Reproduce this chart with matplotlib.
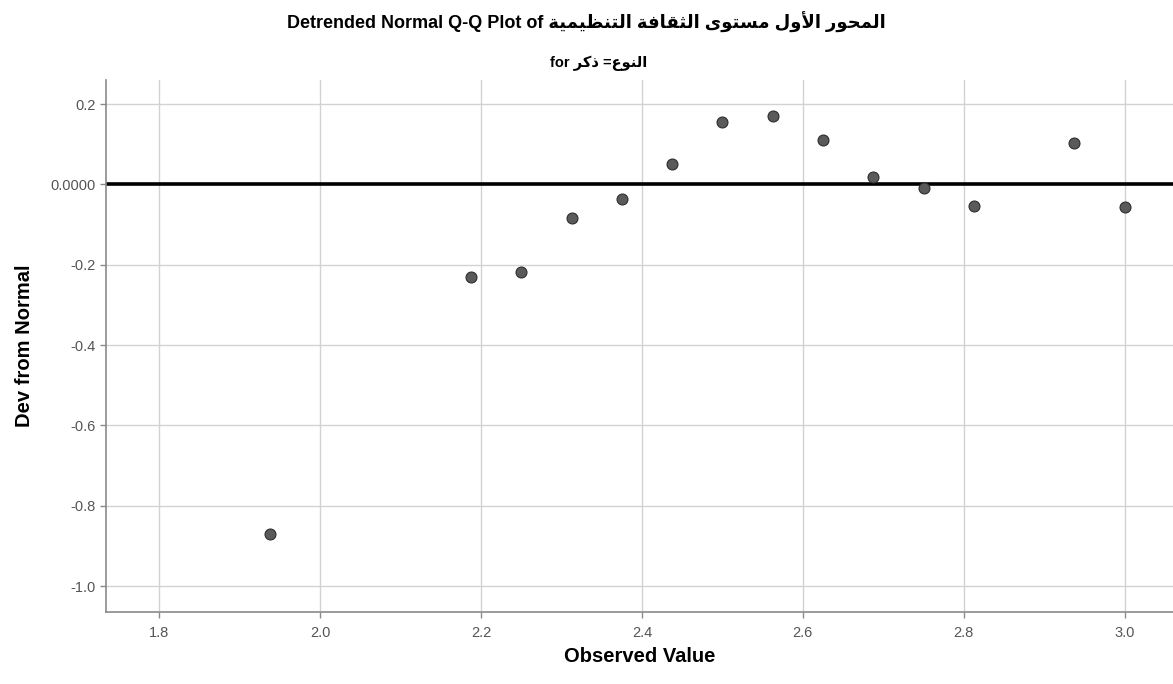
import matplotlib
matplotlib.use("Agg")
import matplotlib.pyplot as plt

observed = [1.9375, 2.1875, 2.25, 2.3125, 2.375, 2.4375, 2.5, 2.5625,
            2.625, 2.6875, 2.75, 2.8125, 2.9375, 3.0]
dev_from_normal = [-0.870, -0.230, -0.218, -0.083, -0.035, 0.050, 0.155, 0.171,
                   0.111, 0.018, -0.008, -0.054, 0.102, -0.056]

x_ticks = [1.8, 2.0, 2.2, 2.4, 2.6, 2.8, 3.0]
x_tick_labels = ["1.8", "2.0", "2.2", "2.4", "2.6", "2.8", "3.0"]
y_ticks = [0.2, 0.0, -0.2, -0.4, -0.6, -0.8, -1.0]
y_tick_labels = ["0.2", "0.0000", "-0.2", "-0.4", "-0.6", "-0.8", "-1.0"]

title_ar = "المحور الأول مستوى الثقافة التنظيمية"
subtitle_ar = "النوع= ذكر"

# presentation forms: isolated, final, initial, medial
FORMS = {
    "ا": (0xFE8D, 0xFE8E, None, None),
    "أ": (0xFE83, 0xFE84, None, None),
    "ة": (0xFE93, 0xFE94, None, None),
    "ت": (0xFE95, 0xFE96, 0xFE97, 0xFE98),
    "ث": (0xFE99, 0xFE9A, 0xFE9B, 0xFE9C),
    "ح": (0xFEA1, 0xFEA2, 0xFEA3, 0xFEA4),
    "ذ": (0xFEAB, 0xFEAC, None, None),
    "ر": (0xFEAD, 0xFEAE, None, None),
    "س": (0xFEB1, 0xFEB2, 0xFEB3, 0xFEB4),
    "ظ": (0xFEC5, 0xFEC6, 0xFEC7, 0xFEC8),
    "ع": (0xFEC9, 0xFECA, 0xFECB, 0xFECC),
    "ف": (0xFED1, 0xFED2, 0xFED3, 0xFED4),
    "ق": (0xFED5, 0xFED6, 0xFED7, 0xFED8),
    "ك": (0xFED9, 0xFEDA, 0xFEDB, 0xFEDC),
    "ل": (0xFEDD, 0xFEDE, 0xFEDF, 0xFEE0),
    "م": (0xFEE1, 0xFEE2, 0xFEE3, 0xFEE4),
    "ن": (0xFEE5, 0xFEE6, 0xFEE7, 0xFEE8),
    "و": (0xFEED, 0xFEEE, None, None),
    "ى": (0xFEEF, 0xFEF0, None, None),
    "ي": (0xFEF1, 0xFEF2, 0xFEF3, 0xFEF4),
    "لا": (0xFEFB, 0xFEFC, None, None),
    "لأ": (0xFEF7, 0xFEF8, None, None),
}


def shape(text):
    # join the letters and put them in visual (right-to-left) order
    units = []
    i = 0
    while i < len(text):
        if text[i] == "ل" and i + 1 < len(text) and text[i + 1] in "اأ":
            units.append(text[i:i + 2])
            i += 2
        else:
            units.append(text[i])
            i += 1
    out = []
    for k, u in enumerate(units):
        f = FORMS.get(u)
        if f is None:
            out.append(u)
            continue
        prev = FORMS.get(units[k - 1]) if k > 0 else None
        nxt = FORMS.get(units[k + 1]) if k + 1 < len(units) else None
        join_prev = prev is not None and prev[2] is not None
        join_next = nxt is not None and f[2] is not None
        if join_prev and join_next:
            c = f[3]
        elif join_prev:
            c = f[1]
        elif join_next:
            c = f[2]
        else:
            c = f[0]
        out.append(chr(c))
    return "".join(out)[::-1]


fonts = ["Liberation Sans", "DejaVu Sans"]
plt.rcParams["font.family"] = fonts

fig = plt.figure(figsize=(11.73, 6.84), dpi=100)
ax = fig.add_axes([0.0904, 0.105, 0.9096, 0.778])

ax.axhline(0, color="black", linewidth=2.6, zorder=2)
ax.scatter(observed, dev_from_normal, s=62, color="#5a5a5a",
           edgecolor="#2e2e2e", linewidth=0.8, zorder=3)

ax.set_xlim(1.734, 3.06)
ax.set_ylim(-1.065, 0.26)
ax.set_xticks(x_ticks)
ax.set_xticklabels(x_tick_labels)
ax.set_yticks(y_ticks)
ax.set_yticklabels(y_tick_labels)

ax.grid(True, color="#d2d2d2", linewidth=1.0, zorder=0)
ax.set_axisbelow(True)
for side in ["top", "right"]:
    ax.spines[side].set_visible(False)
for side in ["left", "bottom"]:
    ax.spines[side].set_color("#8a8a8a")
    ax.spines[side].set_linewidth(1.2)
ax.tick_params(axis="both", colors="#8a8a8a", labelcolor="#555555",
               labelsize=10.5, length=4, width=1)
ax.tick_params(axis="x", pad=6)

ax.set_xlabel("Observed Value", fontsize=14.5, fontweight="bold")
ax.xaxis.set_label_coords(0.5, -0.066)
ax.set_ylabel("Dev from Normal", fontsize=14.5, fontweight="bold", labelpad=12)

fig.text(0.5, 0.967, "Detrended Normal Q-Q Plot of " + shape(title_ar),
         ha="center", va="center", fontsize=13, fontweight="bold")
fig.text(0.51, 0.908, "for " + shape(subtitle_ar),
         ha="center", va="center", fontsize=10.5, fontweight="bold")

fig.savefig("out.png", dpi=100)
